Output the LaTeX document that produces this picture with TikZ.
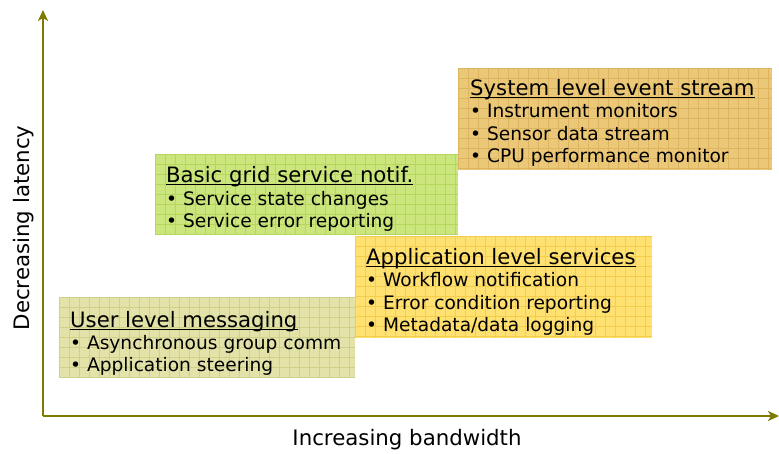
\documentclass[tikz,border=0pt]{standalone}
\usepackage{fontspec}
\setmainfont{DejaVu Sans}
\usetikzlibrary{arrows.meta}
\definecolor{axiscol}{HTML}{7F7A00}
\definecolor{systfill}{HTML}{EBC878}
\definecolor{systgrid}{HTML}{DDB560}
\definecolor{gridfill}{HTML}{CBE67C}
\definecolor{gridgrid}{HTML}{B6D65C}
\definecolor{appfill}{HTML}{FFE172}
\definecolor{appgrid}{HTML}{F4CD4C}
\definecolor{userfill}{HTML}{E3E3A9}
\definecolor{usergrid}{HTML}{D0D088}
\tikzset{
  boxstyle/.style={draw=none,inner sep=0pt,anchor=north west},
  txt/.style={anchor=base west,inner sep=0pt,font=\fontsize{18.6}{22}\selectfont},
  ttl/.style={anchor=base west,inner sep=0pt,font=\fontsize{21.2}{24}\selectfont},
  uline/.style={draw=black,line width=1.3pt},
  axisline/.style={draw=axiscol,line width=2pt,-{Stealth[length=11pt,width=10pt,inset=3pt]}},
  axislabel/.style={inner sep=0pt,font=\fontsize{21.3}{24}\selectfont},
}
\newcommand{\gridbox}[7]{%
  % name, x, y, w, h, fill, grid
  \node[boxstyle,fill=#6,minimum width=#4pt,minimum height=#5pt] (#1) at (#2,#3) {};
  \begin{scope}
    \clip (#1.south west) rectangle (#1.north east);
    \draw[#7,line width=0.6pt,xstep=10pt,ystep=10pt,shift={(#1.north west)}] (0,0) grid (#4pt,-#5pt);
  \end{scope}
}
\newcommand{\titleline}[1]{%
  \draw[uline] ([yshift=-2.5pt]#1.base west) -- ([yshift=-2.5pt]#1.base east);
}
\begin{document}
\begin{tikzpicture}[x=1pt,y=-1pt]
\useasboundingbox (0,0) rectangle (779,453);
% boxes
\gridbox{user}{59}{297}{296}{81}{userfill}{usergrid}
\gridbox{app}{355}{236}{297}{102}{appfill}{appgrid}
\gridbox{basic}{155}{154}{303}{81}{gridfill}{gridgrid}
\gridbox{syst}{458}{68}{314}{102}{systfill}{systgrid}
% texts
\node[ttl] (s0) at (470,95) {System level event stream};
\node[txt] (s1) at (470,117) {• Instrument monitors};
\node[txt] (s2) at (470,140) {• Sensor data stream};
\node[txt] (s3) at (470,162) {• CPU performance monitor};
\node[ttl] (b0) at (166,182) {Basic grid service notif.};
\node[txt] (b1) at (166,205) {• Service state changes};
\node[txt] (b2) at (166,227) {• Service error reporting};
\node[ttl] (a0) at (366,264) {Application level services};
\node[txt] (a1) at (366,286) {• Workflow notification};
\node[txt] (a2) at (366,309) {• Error condition reporting};
\node[txt] (a3) at (366,331) {• Metadata/data logging};
\node[ttl] (u0) at (70,327) {User level messaging};
\node[txt] (u1) at (70,349) {• Asynchronous group comm};
\node[txt] (u2) at (70,371) {• Application steering};
\titleline{s0}
\titleline{b0}
\titleline{a0}
\titleline{u0}
% axes
\coordinate (origin) at (43,416);
\coordinate (ytop) at (43,10);
\coordinate (xend) at (779,416);
\draw[axisline] (origin) -- (ytop);
\draw[axisline] (origin) -- (xend);
\node[axislabel,rotate=90] (ylab) at (24,228) {Decreasing latency};
\node[axislabel] (xlab) at (407,440) {Increasing bandwidth};
\end{tikzpicture}
\end{document}
